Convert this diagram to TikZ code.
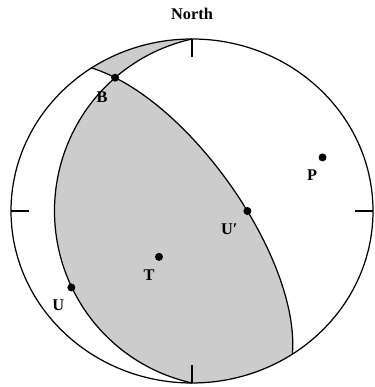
\documentclass[tikz,border=0pt]{standalone}
\usepackage{fontspec}
\setmainfont{Liberation Serif}
\usetikzlibrary{positioning}
\definecolor{NetGray}{HTML}{CCCCCC}
\definecolor{NetInk}{HTML}{000000}
\tikzset{
  netlabel/.style={font=\bfseries\fontsize{9.3}{11}\selectfont, text=NetInk, inner sep=0pt},
  netline/.style={draw=NetInk, line width=0.7pt},
  nettick/.style={draw=NetInk, line width=0.7pt},
  netdot/.style={circle, fill=NetInk, inner sep=0pt, minimum size=0.16cm},
  netfill/.style={fill=NetGray},
  netarc/.style={x radius=3.62cm, y radius=3.44cm}
}
\begin{document}
\begin{tikzpicture}[x=3.62cm, y=3.44cm]
\useasboundingbox (-1.0608,-1.0233) rectangle (1.0055,1.2267);
% shaded quadrants between the two nodal planes
\fill[netfill] (-0.4252,0.7748)
  -- plot[domain=31.2:180, samples=60] ({-sin(\x)*cos(25)/sqrt(1+sin(\x)*sin(25))}, {cos(\x)/sqrt(1+sin(\x)*sin(25))})
  arc[netarc, start angle=-90, end angle=-56.3]
  -- plot[domain=0:166.4, samples=60] ({(cos(\x)*sin(146.3)+sin(\x)*cos(68.8)*sin(56.3))/sqrt(1+sin(\x)*sin(68.8))}, {(cos(\x)*cos(146.3)+sin(\x)*cos(68.8)*cos(56.3))/sqrt(1+sin(\x)*sin(68.8))})
  -- cycle;
\fill[netfill] (0,1)
  -- plot[domain=0:31.2, samples=20] ({-sin(\x)*cos(25)/sqrt(1+sin(\x)*sin(25))}, {cos(\x)/sqrt(1+sin(\x)*sin(25))})
  -- plot[domain=166.4:180, samples=10] ({(cos(\x)*sin(146.3)+sin(\x)*cos(68.8)*sin(56.3))/sqrt(1+sin(\x)*sin(68.8))}, {(cos(\x)*cos(146.3)+sin(\x)*cos(68.8)*cos(56.3))/sqrt(1+sin(\x)*sin(68.8))})
  arc[netarc, start angle=123.7, end angle=90]
  -- cycle;
% nodal planes
\draw[netline] plot[domain=0:180, samples=90] ({-sin(\x)*cos(25)/sqrt(1+sin(\x)*sin(25))}, {cos(\x)/sqrt(1+sin(\x)*sin(25))});
\draw[netline] plot[domain=0:180, samples=90] ({(cos(\x)*sin(146.3)+sin(\x)*cos(68.8)*sin(56.3))/sqrt(1+sin(\x)*sin(68.8))}, {(cos(\x)*cos(146.3)+sin(\x)*cos(68.8)*cos(56.3))/sqrt(1+sin(\x)*sin(68.8))});
% primitive and ticks
\draw[netline] (0,0) ellipse [netarc];
\draw[nettick] (-1,0) -- (-0.9,0);
\draw[nettick] (1,0) -- (0.9,0);
\draw[nettick] (0,1) -- (0,0.895);
\draw[nettick] (0,-1) -- (0,-0.895);
\node[netlabel] (north) at (0,1.1483) {North};
% axes
\node[netdot] (B) at (-0.4252,0.7748) {};
\node[netdot] (T) at (-0.1822,-0.2666) {};
\node[netdot] (P) at (0.7211,0.3115) {};
\node[netdot] (Uprime) at (0.306,0) {};
\node[netdot] (U) at (-0.6665,-0.4445) {};
\node[netlabel, on grid, below left=0.38cm and 0.26cm of B] (labB) {B};
\node[netlabel, on grid, below left=0.36cm and 0.20cm of T] (labT) {T};
\node[netlabel, on grid, below left=0.35cm and 0.21cm of P] (labP) {P};
\node[netlabel, on grid, below left=0.36cm and 0.36cm of Uprime] (labUprime) {U′};
\node[netlabel, on grid, below left=0.36cm and 0.26cm of U] (labU) {U};
\end{tikzpicture}
\end{document}
